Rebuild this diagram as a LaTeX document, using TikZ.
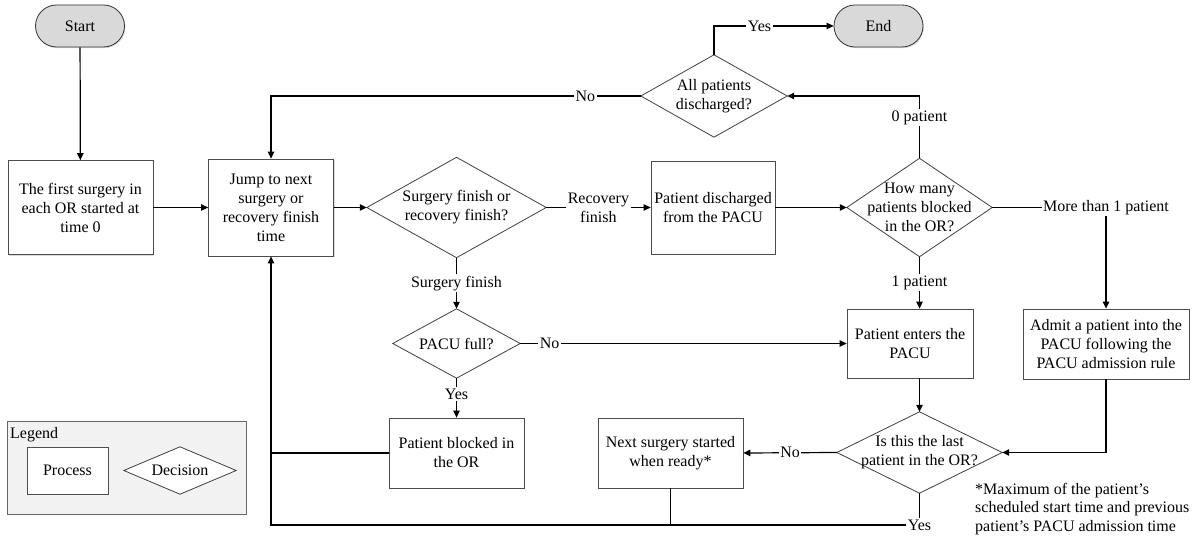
\documentclass[tikz,border=0pt]{standalone}
\usepackage{fontspec}
\setmainfont{Liberation Serif}
\usetikzlibrary{arrows.meta,shadows,backgrounds}
\begin{document}
\begin{tikzpicture}[x=1pt,y=-1pt,
  txt/.style={font=\fontsize{16}{19}\selectfont},
  sh/.style={drop shadow={shadow xshift=1pt,shadow yshift=-1.2pt,fill=black!40,opacity=0.35}},
  proc/.style={txt,draw=black!70,line width=0.8pt,fill=white,align=center,inner sep=1pt,sh},
  term/.style={txt,draw=black!80,line width=0.8pt,fill=black!15,rounded corners=21pt,minimum width=89,minimum height=42,sh},
  dec/.style={txt,align=center,inner sep=0pt},
  dshape/.style={draw=black!75,line width=0.8pt,fill=white},
  arr/.style={line width=1.2pt,-{Triangle[length=7pt,width=6.5pt]}},
  ln/.style={line width=1.2pt},
  lbl/.style={txt,fill=white,inner sep=1.5pt,align=center},
]
\useasboundingbox (0,0) rectangle (1198,537);

\node[term] (start) at (80,26) {Start};
\node[term] (end) at (878.5,26) {End};
\node[proc,minimum width=145,minimum height=94] (b1) at (80.5,207.5) {The first surgery in\\each OR started at\\time 0};
\node[proc,minimum width=125,minimum height=97] (b2) at (271,207.5) {Jump to next\\surgery or\\recovery finish\\time};
\node[dec,minimum width=179,minimum height=100] (d1) at (456.5,207.5) {Surgery finish or\\recovery finish?};
\node[proc,minimum width=124,minimum height=93] (b3) at (713,207.5) {Patient discharged\\from the PACU};
\node[dec,minimum width=145,minimum height=98] (d3) at (919.5,207.5) {How many\\patients blocked\\in the OR?};
\node[dec,minimum width=146,minimum height=82] (d2) at (714,96) {All patients\\discharged?};
\node[dec,minimum width=127,minimum height=69] (pf) at (456.5,343.5) {PACU full?};
\node[proc,minimum width=126,minimum height=69] (b4) at (910,343.5) {Patient enters the\\PACU};
\node[proc,minimum width=166,minimum height=70] (b5) at (1106,344) {Admit a patient into the\\PACU following the\\PACU admission rule};
\node[proc,minimum width=135,minimum height=70] (b6) at (456.5,453) {Patient blocked in\\the OR};
\node[proc,minimum width=145,minimum height=70] (b7) at (670.5,453) {Next surgery started\\when ready*};
\node[dec,minimum width=165,minimum height=81] (d4) at (919.5,452.5) {Is this the last\\patient in the OR?};
\coordinate (bot) at (b2.south |- 0,525);

\node[proc,minimum width=81,minimum height=47] (lp) at (67.5,470.5) {Process};
\node[dec,minimum width=112,minimum height=47] (ld) at (180,470.5) {Decision};
\node[txt,anchor=base west,inner sep=0pt] (lt) at (10,438) {Legend};
\node[txt,anchor=north west,inner sep=0pt,align=left,font=\fontsize{16}{18.5}\selectfont] (fn) at (975,483) {*Maximum of the patient’s\\scheduled start time and previous\\patient’s PACU admission time};

\begin{scope}[on background layer]
\node[draw=black!60,line width=0.8pt,fill=black!5,minimum width=239,minimum height=93,sh] (leg) at (126.5,467.5) {};
\foreach \n in {d1,d2,d3,d4,pf,ld} \filldraw[dshape] (\n.north)--(\n.east)--(\n.south)--(\n.west)--cycle;
\end{scope}

\draw[arr] (start) -- (b1);
\draw[arr] (b1) -- (b2);
\draw[arr] (b2.east) -- (d1.west);
\draw[arr] (d1.east) -- node[lbl]{Recovery\\finish} (b3.west);
\draw[arr] (b3.east) -- (d3.west);
\draw[arr] (d3.north) -- node[lbl,pos=0.65]{0 patient} (d3.north |- d2.east) -- (d2.east);
\draw[arr] (d2.north) |- node[lbl,pos=0.69]{Yes} (end.west);
\draw[arr] (d2.west) -| node[lbl,pos=0.075]{No} (b2.north);
\draw[arr] (d1.south) -- node[lbl]{Surgery finish} (pf.north);
\draw[arr] (pf.east) -- node[lbl,pos=0.09]{No} (b4.west);
\draw[arr] (pf.south) -- node[lbl,pos=0.4]{Yes} (b6.north);
\draw[arr] (d3.south) -- node[lbl]{1 patient} (d3.south |- b4.north);
\draw[arr] (d3.east) -| node[lbl]{More than 1 patient} (b5.north);
\draw[arr] (d4.north |- b4.south) -- (d4.north);
\draw[arr] (b5.south) |- (d4.east);
\draw[arr] (d4.west) -- node[lbl]{No} (b7.east);
\draw[arr] (d4.south) |- node[lbl]{Yes} (bot) -- (b2.south);
\draw[ln] (b7.south) -- (b7.south |- bot);
\draw[ln] (b6.west) -- (b6.west -| b2.south);
\end{tikzpicture}
\end{document}
